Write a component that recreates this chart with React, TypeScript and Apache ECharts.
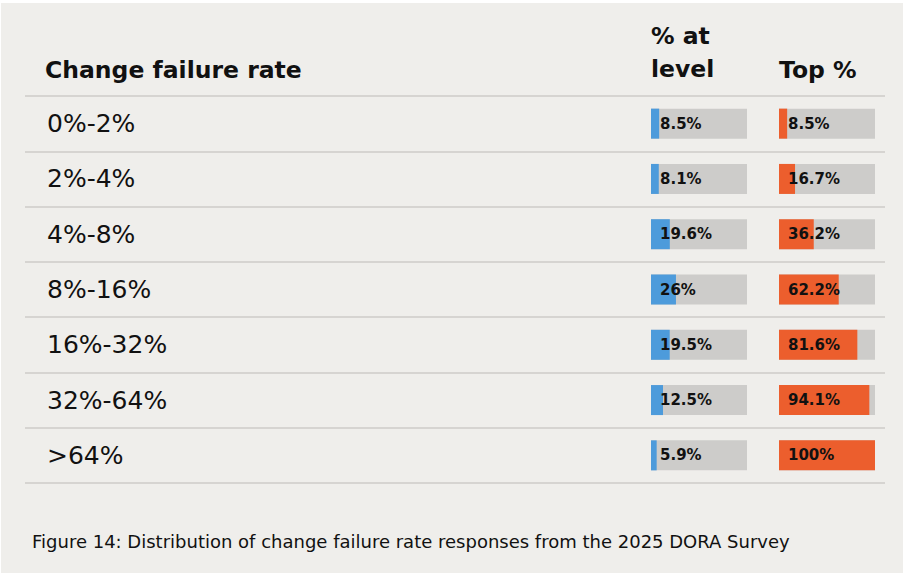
import React, { useEffect, useRef } from "react";
import * as echarts from "echarts";

const categories = ["0%-2%", "2%-4%", "4%-8%", "8%-16%", "16%-32%", "32%-64%", ">64%"];
const atLevel = [8.5, 8.1, 19.6, 26, 19.5, 12.5, 5.9];
const topPct = [8.5, 16.7, 36.2, 62.2, 81.6, 94.1, 100];
const scaleMax = 100;
const trackValues = categories.map(() => scaleMax);

const headerRate = "Change failure rate";
const headerLevel = "% at\nlevel";
const headerTop = "Top %";
const caption = "Figure 14: Distribution of change failure rate responses from the 2025 DORA Survey";

const FONT = "'DejaVu Sans', sans-serif";
const BLUE = "#4D9BDB";
const ORANGE = "#EC5E2D";
const TRACK = "#CDCCCA";
const LINE = "#D6D4D1";
const TEXT = "#111111";

export default function App() {
  const ref = useRef<HTMLDivElement>(null);
  useEffect(() => {
    if (!ref.current) return;
    const chart = echarts.init(ref.current, undefined, { renderer: "svg" });
    const top = 96;
    const height = 387;
    const barLabel = {
      show: true,
      position: "insideLeft",
      distance: 9,
      formatter: "{c}%",
      fontFamily: FONT,
      fontWeight: "bold",
      fontSize: 15,
      color: TEXT,
    };
    chart.setOption({
      animation: false,
      backgroundColor: "#ffffff",
      grid: [
        { left: 25, right: 23, top, height },
        { left: 651, width: 96, top, height },
        { left: 779, width: 96, top, height },
      ],
      xAxis: [0, 1, 2].map((i) => ({
        type: "value",
        gridIndex: i,
        min: 0,
        max: scaleMax,
        show: false,
      })),
      yAxis: [
        {
          type: "category",
          gridIndex: 0,
          data: categories,
          inverse: true,
          axisLine: { show: false },
          axisTick: { show: false },
          axisLabel: { show: false },
          splitLine: { show: true, interval: 0, lineStyle: { color: LINE, width: 2 } },
        },
        {
          type: "category",
          gridIndex: 1,
          data: categories,
          inverse: true,
          axisLine: { show: false },
          axisTick: { show: false },
          splitLine: { show: false },
          axisLabel: {
            show: true,
            interval: 0,
            align: "left",
            margin: 604,
            padding: [5, 0, 0, 0],
            fontFamily: FONT,
            fontSize: 25,
            color: TEXT,
          },
        },
        {
          type: "category",
          gridIndex: 2,
          data: categories,
          inverse: true,
          axisLine: { show: false },
          axisTick: { show: false },
          splitLine: { show: false },
          axisLabel: { show: false },
        },
      ],
      series: [
        {
          type: "bar",
          xAxisIndex: 1,
          yAxisIndex: 1,
          data: trackValues,
          barWidth: 30,
          barGap: "-100%",
          itemStyle: { color: TRACK },
          silent: true,
        },
        {
          type: "bar",
          xAxisIndex: 1,
          yAxisIndex: 1,
          data: atLevel,
          barWidth: 30,
          barGap: "-100%",
          itemStyle: { color: BLUE },
          label: barLabel,
        },
        {
          type: "bar",
          xAxisIndex: 2,
          yAxisIndex: 2,
          data: trackValues,
          barWidth: 30,
          barGap: "-100%",
          itemStyle: { color: TRACK },
          silent: true,
        },
        {
          type: "bar",
          xAxisIndex: 2,
          yAxisIndex: 2,
          data: topPct,
          barWidth: 30,
          barGap: "-100%",
          itemStyle: { color: ORANGE },
          label: barLabel,
        },
      ],
      graphic: {
        elements: [
          {
            type: "rect",
            z: -100,
            silent: true,
            shape: { x: 1, y: 3, width: 902, height: 570 },
            style: { fill: "#EFEEEB" },
          },
          {
            type: "text",
            x: 45,
            y: 70,
            style: {
              text: headerRate,
              fontFamily: FONT,
              fontWeight: "bold",
              fontSize: 23.5,
              fill: TEXT,
              verticalAlign: "middle",
            },
          },
          {
            type: "text",
            x: 651,
            y: 19,
            style: {
              text: headerLevel,
              fontFamily: FONT,
              fontWeight: "bold",
              fontSize: 23.5,
              lineHeight: 33,
              fill: TEXT,
              verticalAlign: "top",
            },
          },
          {
            type: "text",
            x: 779,
            y: 70,
            style: {
              text: headerTop,
              fontFamily: FONT,
              fontWeight: "bold",
              fontSize: 23.5,
              fill: TEXT,
              verticalAlign: "middle",
            },
          },
          {
            type: "text",
            x: 32,
            y: 541,
            style: {
              text: caption,
              fontFamily: FONT,
              fontSize: 18,
              fill: TEXT,
              verticalAlign: "middle",
            },
          },
        ],
      },
    });
    return () => chart.dispose();
  }, []);
  return (
    <div style={{ position: "fixed", left: 0, top: 0, width: 908, height: 576, background: "#fff" }}>
      <div ref={ref} style={{ width: 908, height: 576 }} />
    </div>
  );
}
